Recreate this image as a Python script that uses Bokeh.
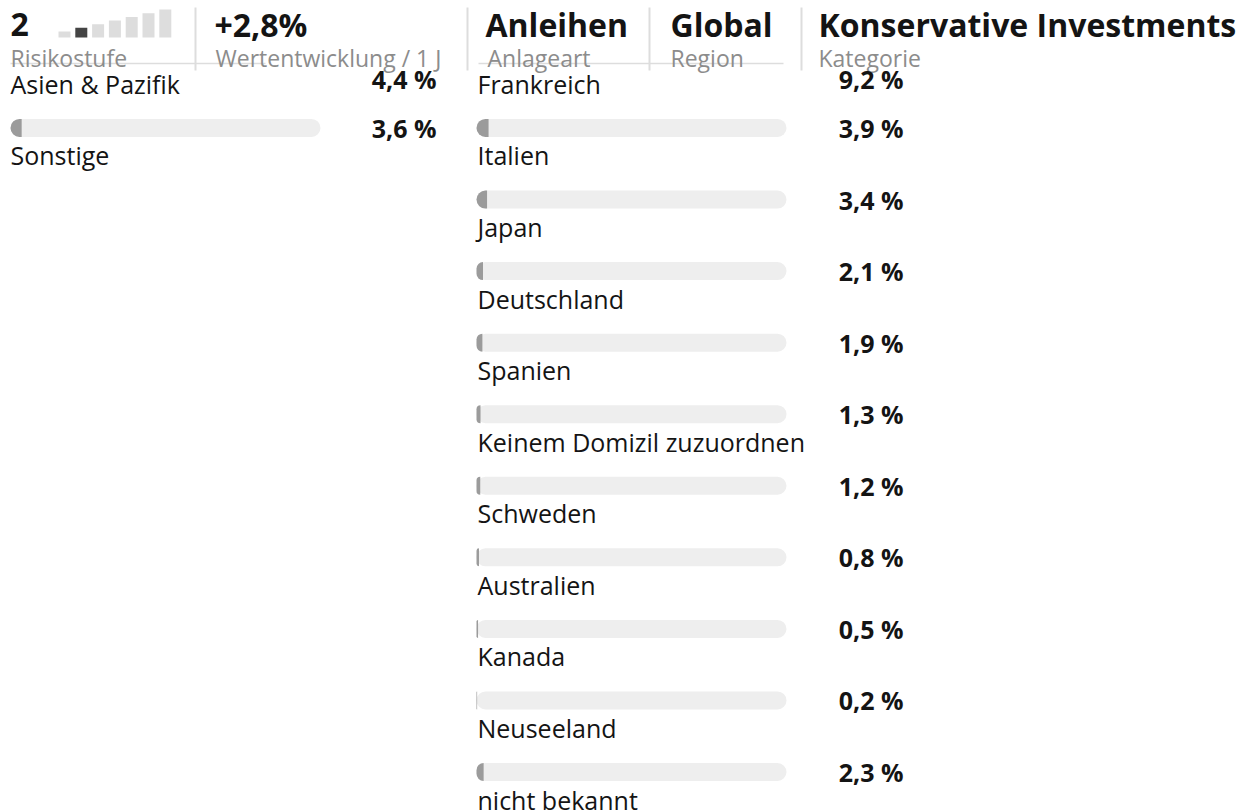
from bokeh.plotting import figure
from bokeh.models import Range1d, ColumnDataSource
from bokeh.core.properties import value
from bokeh.embed import file_html
from bokeh.resources import INLINE

# ---------------- data ----------------
risk_level = 2
risk_steps = 7
performance_1y = "+2,8%"
header_titles = ["Anleihen", "Global", "Konservative Investments"]
header_captions = ["Anlageart", "Region", "Kategorie"]

left_labels = ["Asien & Pazifik", "Sonstige"]
left_values = [4.4, 3.6]

right_labels = ["Frankreich", "Italien", "Japan", "Deutschland", "Spanien",
                "Keinem Domizil zuzuordnen", "Schweden", "Australien",
                "Kanada", "Neuseeland", "nicht bekannt"]
right_values = [9.2, 3.9, 3.4, 2.1, 1.9, 1.3, 1.2, 0.8, 0.5, 0.2, 2.3]

# ---------------- style / layout ----------------
W, H = 1241, 812
FONT = "Open Sans"
TXT = "#141414"
GRAY_TXT = "#8c8c8c"
TRACK = "#eeeeee"
FILL = "#9b9b9b"
RULE = "#dddddd"

ROW0 = 55.9
ROW_STEP = 71.56
TRACK_W = 310
BAR_H = 18
RAD = 9
K = 0.42  # baseline correction (fraction of font size)

FS_LABEL = 25
FS_VALUE = 25
FS_HEAD = 32
FS_CAP = 23

p = figure(width=W, height=H, x_range=Range1d(0, W), y_range=Range1d(H, 0),
           output_backend="svg", toolbar_location=None, min_border=0,
           outline_line_color=None, background_fill_color="white",
           border_fill_color="white")
p.axis.visible = False
p.grid.visible = False


def fmt(v):
    return f"{v:.1f}".replace(".", ",") + " %"


def bl(baseline, fs):
    return baseline - K * fs


def column(labels, values, x0):
    n = len(labels)
    ys = [ROW0 + i * ROW_STEP for i in range(n)]
    src = ColumnDataSource(dict(
        y=ys,
        left=[x0] * n,
        right=[x0 + TRACK_W] * n,
        fill_right=[x0 + v / 100.0 * TRACK_W for v in values],
    ))
    p.hbar(y="y", left="left", right="right", height=BAR_H, source=src,
           fill_color=TRACK, line_color=None, border_radius=RAD)
    p.hbar(y="y", left="left", right="fill_right", height=BAR_H, source=src,
           fill_color=FILL, line_color=None,
           border_radius=(RAD, 0, 0, RAD))
    return ys


def column_text(labels, values, ys, x0, value_right):
    lab_src = ColumnDataSource(dict(x=[x0] * len(labels),
                                    y=[bl(y + 38, FS_LABEL) for y in ys],
                                    t=labels))
    p.text(x="x", y="y", text="t", source=lab_src, text_font=value(FONT),
           text_font_size=f"{FS_LABEL}px", text_color=TXT, text_align="left",
           text_baseline="alphabetic")
    vy = [bl(89 if i == 0 else y + 10.5, FS_VALUE) for i, y in enumerate(ys)]
    val_src = ColumnDataSource(dict(x=[value_right] * len(values), y=vy,
                                    t=[fmt(v) for v in values]))
    p.text(x="x", y="y", text="t", source=val_src, text_font=value(FONT),
           text_font_size=f"{FS_VALUE}px", text_font_style="bold",
           text_color=TXT, text_align="right", text_baseline="alphabetic")


ys_left = column(left_labels, left_values, 10)
ys_right = column(right_labels, right_values, 476)

# header background band (covers first-row bars)
p.quad(left=0, right=W, top=0, bottom=70, fill_color="white", line_color=None)

# header rules
p.segment(x0=[10, 478], y0=[63, 63], x1=[265, 783], y1=[63, 63],
          line_color=RULE, line_width=1.5)
p.segment(x0=[195, 467, 649, 801], y0=[7] * 4, x1=[195, 467, 649, 801],
          y1=[70] * 4, line_color=RULE, line_width=2)

# risk scale bars
rx = [58 + i * 16.8 for i in range(risk_steps)]
rh = [6 + i * 3.65 for i in range(risk_steps)]
rcol = ["#444444" if i == risk_level - 1 else "#dddddd" for i in range(risk_steps)]
p.quad(left=rx, right=[x + 12 for x in rx], bottom=[37] * risk_steps,
       top=[37 - h for h in rh], fill_color=rcol, line_color=None)

# header texts
big_x = [10, 214, 485, 670, 818]
big_t = [str(risk_level), performance_1y] + header_titles
p.text(x=big_x, y=[bl(37, FS_HEAD)] * len(big_x), text=big_t,
       text_font=value(FONT), text_font_size=f"{FS_HEAD}px",
       text_font_style="bold", text_color=TXT,
       text_align="left", text_baseline="alphabetic")
cap_x = [10, 215, 487, 670, 818]
cap_t = ["Risikostufe", "Wertentwicklung / 1 J"] + header_captions
p.text(x=cap_x, y=[bl(67, FS_CAP)] * len(cap_x), text=cap_t,
       text_font=value(FONT), text_font_size=f"{FS_CAP}px",
       text_color=GRAY_TXT, text_align="left", text_baseline="alphabetic")

column_text(left_labels, left_values, ys_left, 10, 436)
column_text(right_labels, right_values, ys_right, 477, 903)

open("out.html", "w").write(file_html(p, INLINE))
